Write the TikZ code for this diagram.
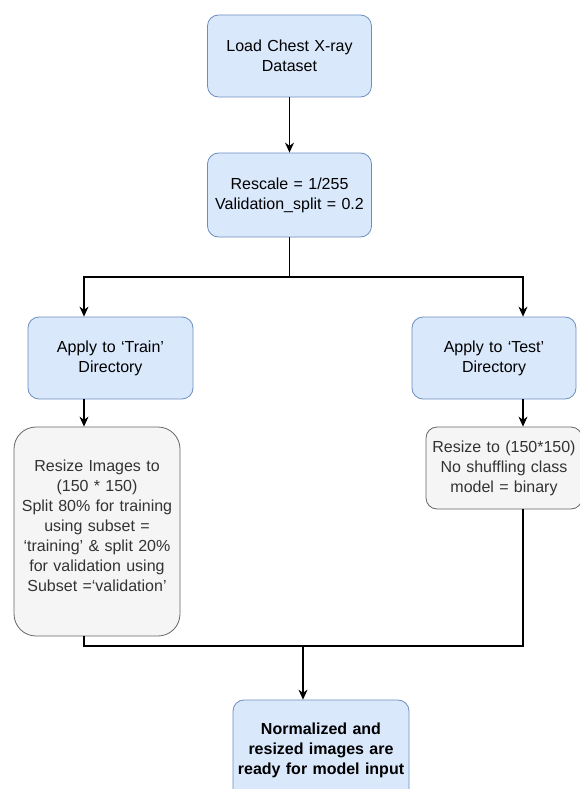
\documentclass[tikz,border=0pt]{standalone}
\usepackage{fontspec}
\setmainfont{Liberation Sans}
\usetikzlibrary{arrows.meta}

\definecolor{bluefill}{HTML}{DAE8FC}
\definecolor{blueline}{HTML}{6C8EBF}
\definecolor{greyfill}{HTML}{F5F5F5}
\definecolor{greyline}{HTML}{666666}
\definecolor{greytext}{HTML}{333333}

\begin{document}
\begin{tikzpicture}[x=1pt,y=-1pt,
    stepbox/.style={draw=blueline, fill=bluefill, rounded corners=11pt, line width=0.8pt,
        align=center, inner sep=0pt, font=\fontsize{16}{20}\selectfont},
    greybox/.style={draw=greyline, fill=greyfill, text=greytext, rounded corners=11pt,
        line width=0.8pt, align=center, inner sep=0pt, font=\fontsize{16}{20}\selectfont},
    conn/.style={line width=1.1pt},
    arr/.style={conn, -{Stealth[length=10pt,width=9pt]}}]
    \useasboundingbox (0,0) rectangle (579,789);

    % Loading and rescaling
    \node[stepbox, minimum width=164pt, minimum height=82pt, text width=160pt] (load) at (289.5,56)
        {Load Chest X-ray\\Dataset};
    \node[stepbox, minimum width=164pt, minimum height=84pt, text width=160pt] (rescale) at (289.5,195)
        {Rescale = 1/255\\Validation\_split = 0.2};

    % Train and test directories
    \node[stepbox, minimum width=165pt, minimum height=82pt, text width=160pt] (train) at (110.5,358)
        {Apply to `Train'\\Directory};
    \node[stepbox, minimum width=164pt, minimum height=82pt, text width=160pt] (test) at (494,358)
        {Apply to `Test'\\Directory};

    % Resizing steps
    \node[greybox, rounded corners=22pt, minimum width=166pt, minimum height=209pt, text width=162pt,
        execute at end node={\vspace{12pt}}] (trainres) at (97,531.5)
        {Resize Images to\\(150 * 150)\\Split 80\% for training\\using subset =\\`training' \& split 20\%\\for validation  using\\Subset =`validation'};
    \node[greybox, minimum width=156pt, minimum height=82pt, text width=152pt] (testres) at (504,468)
        {Resize to (150*150)\\No shuffling class\\model = binary};

    % Final output
    \node[stepbox, minimum width=176pt, minimum height=100pt, text width=172pt,
        font=\fontsize{16}{20}\selectfont\bfseries] (final) at (321,750)
        {Normalized and\\resized images are\\ready for model input};

    % Connectors
    \coordinate (split) at (289.5,277);
    \coordinate (merge) at (303,646);
    \coordinate (tl) at ([xshift=-26.5pt]train.south);
    \coordinate (tr) at ([xshift=29pt]test.south);

    \draw[arr] (load) -- (rescale);
    \draw[conn] (rescale) -- (split);
    \draw[arr] (split) -| (tl |- train.north);
    \draw[arr] (split) -| (tr |- test.north);
    \draw[arr] (tl) -- (tl |- trainres.north);
    \draw[arr] (tr) -- (tr |- testres.north);
    \draw[conn] (tl |- trainres.south) |- (merge) -| (tr |- testres.south);
    \draw[arr] (merge) -- (merge |- final.north);
\end{tikzpicture}
\end{document}
